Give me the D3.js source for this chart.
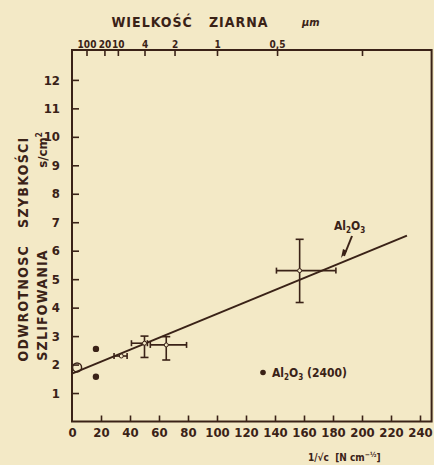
<!DOCTYPE html>
<html><head><meta charset="utf-8">
<script src="https://cdn.jsdelivr.net/npm/d3@7/dist/d3.min.js"></script>
<style>
body{margin:0;background:#f3e9c6;}
svg{display:block;}
text{fill:#3a2217;font-family:"DejaVu Sans Condensed","Liberation Sans Narrow",sans-serif;font-weight:bold;white-space:pre;}
</style></head>
<body>
<script>
// ---- data ----
const xTicks = [0,20,40,60,80,100,120,140,160,180,200,220,240];
const yTicks = [1,2,3,4,5,6,7,8,9,10,11,12];
const grainSizes = [100,20,10,4,2,1,0.5,0.25];
const grainLabels = ["100","20","10","4","2","1","0,5",""];
// measured points with error bars: x, y, x-lo, x-hi, y-lo, y-hi
const errX    = [34, 50, 65, 157];
const errY    = [2.3, 2.75, 2.69, 5.3];
const errXlo  = [29, 41, 54, 141];
const errXhi  = [38, 52, 79, 182];
const errYlo  = [2.3, 2.25, 2.16, 4.18];
const errYhi  = [2.3, 3.0, 2.98, 6.4];
// Al2O3 (2400) filled dots
const dotX = [16.5, 16.5];
const dotY = [2.55, 1.57];
// open circle
const openX = [3.5];
const openY = [1.9];
// regression line end points
const lineX = [0, 231];
const lineY = [1.68, 6.53];

const W=434,H=465;
const ink="#3a2217";
const svg=d3.select("body").append("svg").attr("width",W).attr("height",H);
const x=d3.scaleLinear().domain([0,248]).range([72,431.6]);
const y=d3.scaleLinear().domain([0,13.05]).range([421.5,50]);

// frame
svg.append("rect").attr("x",72).attr("y",50).attr("width",359.6).attr("height",371.5)
  .attr("fill","none").attr("stroke",ink).attr("stroke-width",2);

// bottom axis
const xa=svg.append("g").attr("transform","translate(0,421.5)")
  .call(d3.axisBottom(x).tickValues(xTicks).tickSizeInner(-6).tickSizeOuter(0).tickPadding(10));
xa.select(".domain").remove();
xa.selectAll("line").attr("stroke",ink).attr("stroke-width",1.6);
xa.selectAll("line").filter(d=>d===0).remove();
xa.selectAll("text").attr("font-size",13).attr("fill",ink).attr("dy","0.9em").attr("y",4);

// left axis
const ya=svg.append("g").attr("transform","translate(72,0)")
  .call(d3.axisLeft(y).tickValues(yTicks).tickSizeInner(-7).tickSizeOuter(0).tickPadding(12));
ya.select(".domain").remove();
ya.selectAll("line").attr("stroke",ink).attr("stroke-width",1.6);
ya.selectAll("text").attr("font-size",13).attr("fill",ink);

// top axis (grain size)
const xt=svg.append("g").attr("transform","translate(0,50)")
  .call(d3.axisTop(x).tickValues(grainSizes.map(d=>100/Math.sqrt(d))).tickSizeInner(-6).tickSizeOuter(0)
    .tickPadding(2).tickFormat((d,i)=>grainLabels[i]));
xt.select(".domain").remove();
xt.selectAll("line").attr("stroke",ink).attr("stroke-width",1.6);
xt.selectAll("text").attr("font-size",10).attr("fill",ink);

// regression line
svg.append("line").attr("x1",x(lineX[0])).attr("y1",y(lineY[0])).attr("x2",x(lineX[1])).attr("y2",y(lineY[1]))
  .attr("stroke",ink).attr("stroke-width",2);

// error bars
const eg=svg.append("g").attr("stroke",ink).attr("stroke-width",1.6);
errX.forEach((d,i)=>{
  eg.append("line").attr("x1",x(errXlo[i])).attr("x2",x(errXhi[i])).attr("y1",y(errY[i])).attr("y2",y(errY[i]));
  [errXlo[i],errXhi[i]].forEach(v=>eg.append("line").attr("x1",x(v)).attr("x2",x(v)).attr("y1",y(errY[i])-3).attr("y2",y(errY[i])+3));
  if(errYhi[i]>errYlo[i]){
    eg.append("line").attr("x1",x(d)).attr("x2",x(d)).attr("y1",y(errYlo[i])).attr("y2",y(errYhi[i]));
    [errYlo[i],errYhi[i]].forEach(v=>eg.append("line").attr("x1",x(d)-4).attr("x2",x(d)+4).attr("y1",y(v)).attr("y2",y(v)));
  }
  eg.append("circle").attr("cx",x(d)).attr("cy",y(errY[i])).attr("r",2).attr("fill","#f3e9c6").attr("stroke-width",1);
});

// filled dots
svg.selectAll(".dot").data(dotX).enter().append("circle").attr("cx",(d)=>x(d)).attr("cy",(d,i)=>y(dotY[i]))
  .attr("r",3.2).attr("fill",ink);
// open circle
svg.selectAll(".open").data(openX).enter().append("circle").attr("cx",d=>x(d)).attr("cy",(d,i)=>y(openY[i]))
  .attr("r",4.5).attr("fill","none").attr("stroke",ink).attr("stroke-width",1.5);

// Al2O3 annotation with arrow
const lab=svg.append("text").attr("x",334).attr("y",230).attr("font-size",12);
lab.append("tspan").text("Al");
lab.append("tspan").attr("font-size",8).attr("dy",3).text("2");
lab.append("tspan").attr("dy",-3).text("O");
lab.append("tspan").attr("font-size",8).attr("dy",3).text("3");
svg.append("path").attr("d","M352,236 L344,256").attr("stroke",ink).attr("stroke-width",2).attr("fill","none");
svg.append("path").attr("d","M341,258 L343,249 L347,251 Z").attr("fill",ink);

// legend
svg.append("circle").attr("cx",263).attr("cy",372.5).attr("r",2.8).attr("fill",ink);
const lg=svg.append("text").attr("x",272).attr("y",377).attr("font-size",12);
lg.append("tspan").text("Al");
lg.append("tspan").attr("font-size",8).attr("dy",3).text("2");
lg.append("tspan").attr("dy",-3).text("O");
lg.append("tspan").attr("font-size",8).attr("dy",3).text("3");
lg.append("tspan").attr("dy",-3).text(" (2400)");

// titles
svg.append("text").attr("x",190).attr("y",27).attr("text-anchor","middle").attr("font-size",14)
  .attr("letter-spacing",1).text("WIELKOŚĆ   ZIARNA");
svg.append("text").attr("x",302).attr("y",26).attr("font-size",11).attr("font-style","italic").text("µm");

svg.append("text").attr("transform","translate(28,249) rotate(-90)").attr("text-anchor","middle")
  .attr("font-size",14).attr("letter-spacing",1.3).text("ODWROTNOSC   SZYBKOŚCI");
svg.append("text").attr("transform","translate(47,305) rotate(-90)").attr("text-anchor","middle")
  .attr("font-size",14).attr("letter-spacing",1.2).text("SZLIFOWANIA");
const un=svg.append("text").attr("transform","translate(47,150) rotate(-90)").attr("text-anchor","middle")
  .attr("font-size",13);
un.append("tspan").text("s/cm");
un.append("tspan").attr("font-size",8).attr("dy",-5).text("2");

const xl=svg.append("text").attr("x",308).attr("y",461).attr("font-size",10);
xl.append("tspan").text("1/√c  [N cm");
xl.append("tspan").attr("font-size",7).attr("dy",-4).text("−½");
xl.append("tspan").attr("dy",4).text("]");
</script>
</body></html>
